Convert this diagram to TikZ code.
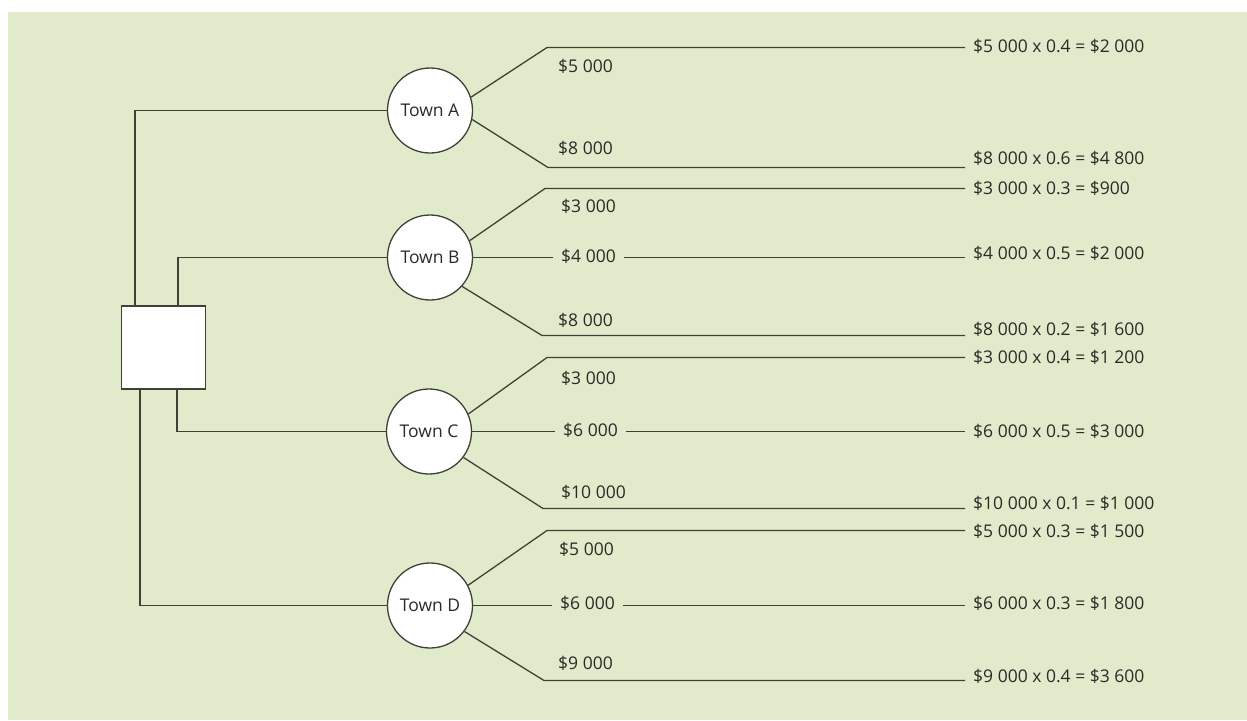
\documentclass[tikz,border=0pt]{standalone}
\usepackage{fontspec}
\setmainfont{Open Sans}
\definecolor{bggreen}{RGB}{225,235,204}
\definecolor{linec}{RGB}{62,66,52}
\definecolor{textc}{RGB}{42,42,38}
\tikzset{
  conn/.style={draw=linec, line width=1.3pt},
  town/.style={circle, draw=linec, line width=1.3pt, fill=white, minimum size=85pt, inner sep=0pt, text=textc, font=\fontsize{17.5}{20}\selectfont},
  decbox/.style={rectangle, draw=linec, line width=1.3pt, fill=white, minimum width=84pt, minimum height=83pt, inner sep=0pt},
  lbl/.style={anchor=west, inner sep=0pt, text=textc, font=\fontsize{17.5}{20}\selectfont},
  midlbl/.style={anchor=west, inner xsep=8pt, inner ysep=0pt, text=textc, font=\fontsize{17.5}{20}\selectfont},
  res/.style={anchor=west, inner xsep=8pt, inner ysep=0pt, text=textc, font=\fontsize{17.5}{20}\selectfont}
}
\begin{document}
\begin{tikzpicture}[x=1pt,y=-1pt]
\useasboundingbox (0,0) rectangle (1247,720);
\fill[bggreen] (8,12) rectangle (1247,720);

% decision box and towns
\node[decbox] (dec) at (163.5,347.5) {};
\node[town] (A) at (430,110.5) {Town A};
\node[town] (B) at (430,257.5) {Town B};
\node[town] (C) at (429,431.5) {Town C};
\node[town] (D) at (430,605.5) {Town D};

\draw[conn] ([xshift=14pt]dec.north west) |- (A);
\draw[conn] ([xshift=57pt]dec.north west) |- (B);
\draw[conn] ([xshift=56pt]dec.south west) |- (C);
\draw[conn] ([xshift=19pt]dec.south west) |- (D);

% Town A branches
\coordinate (a1) at (547,47.5);  \coordinate (a1e) at (965,47.5);
\coordinate (a2) at (548,167.5); \coordinate (a2e) at (965,167.5);
\draw[conn] (A.18) -- (a1) -- (a1e);
\draw[conn] (A.-12) -- (a2) -- (a2e);
\node[lbl] (la1) at (558,66) {\$5 000};
\node[lbl] (la2) at (558,148) {\$8 000};
\node[res] (ra1) at (965,46) {\$5 000 x 0.4 = \$2 000};
\node[res] (ra2) at (965,158) {\$8 000 x 0.6 = \$4 800};

% Town B branches
\coordinate (b1) at (545,188.5); \coordinate (b1e) at (965,188.5);
\coordinate (b3) at (542,335.5); \coordinate (b3e) at (965,335.5);
\coordinate (b2e) at (965,257.5);
\draw[conn] (B.23) -- (b1) -- (b1e);
\draw[conn] (B.-42) -- (b3) -- (b3e);
\node[lbl] (lb1) at (561,206) {\$3 000};
\node[midlbl] (lb2) at (553,256) {\$4 000};
\node[lbl] (lb3) at (558,320) {\$8 000};
\draw[conn] (B) -- (B -| lb2.west);
\draw[conn] (b2e -| lb2.east) -- (b2e);
\node[res] (rb1) at (965,188) {\$3 000 x 0.3 = \$900};
\node[res] (rb2) at (965,253) {\$4 000 x 0.5 = \$2 000};
\node[res] (rb3) at (965,329) {\$8 000 x 0.2 = \$1 600};

% Town C branches
\coordinate (c1) at (547,357.5); \coordinate (c1e) at (965,357.5);
\coordinate (c3) at (543,508.5); \coordinate (c3e) at (965,508.5);
\coordinate (c2e) at (965,431.5);
\draw[conn] (C.24) -- (c1) -- (c1e);
\draw[conn] (C.-37) -- (c3) -- (c3e);
\node[lbl] (lc1) at (561,378) {\$3 000};
\node[midlbl] (lc2) at (555,430) {\$6 000};
\node[lbl] (lc3) at (561,492) {\$10 000};
\draw[conn] (C) -- (C -| lc2.west);
\draw[conn] (c2e -| lc2.east) -- (c2e);
\node[res] (rc1) at (965,357) {\$3 000 x 0.4 = \$1 200};
\node[res] (rc2) at (965,431) {\$6 000 x 0.5 = \$3 000};
\node[res] (rc3) at (965,503) {\$10 000 x 0.1 = \$1 000};

% Town D branches
\coordinate (d1) at (547,530.5); \coordinate (d1e) at (965,530.5);
\coordinate (d3) at (544,680.5); \coordinate (d3e) at (965,680.5);
\coordinate (d2e) at (965,605.5);
\draw[conn] (D.28) -- (d1) -- (d1e);
\draw[conn] (D.-37) -- (d3) -- (d3e);
\node[lbl] (ld1) at (559,549) {\$5 000};
\node[midlbl] (ld2) at (552,603) {\$6 000};
\node[lbl] (ld3) at (558,663) {\$9 000};
\draw[conn] (D) -- (D -| ld2.west);
\draw[conn] (d2e -| ld2.east) -- (d2e);
\node[res] (rd1) at (965,531) {\$5 000 x 0.3 = \$1 500};
\node[res] (rd2) at (965,603) {\$6 000 x 0.3 = \$1 800};
\node[res] (rd3) at (965,676) {\$9 000 x 0.4 = \$3 600};
\end{tikzpicture}
\end{document}
